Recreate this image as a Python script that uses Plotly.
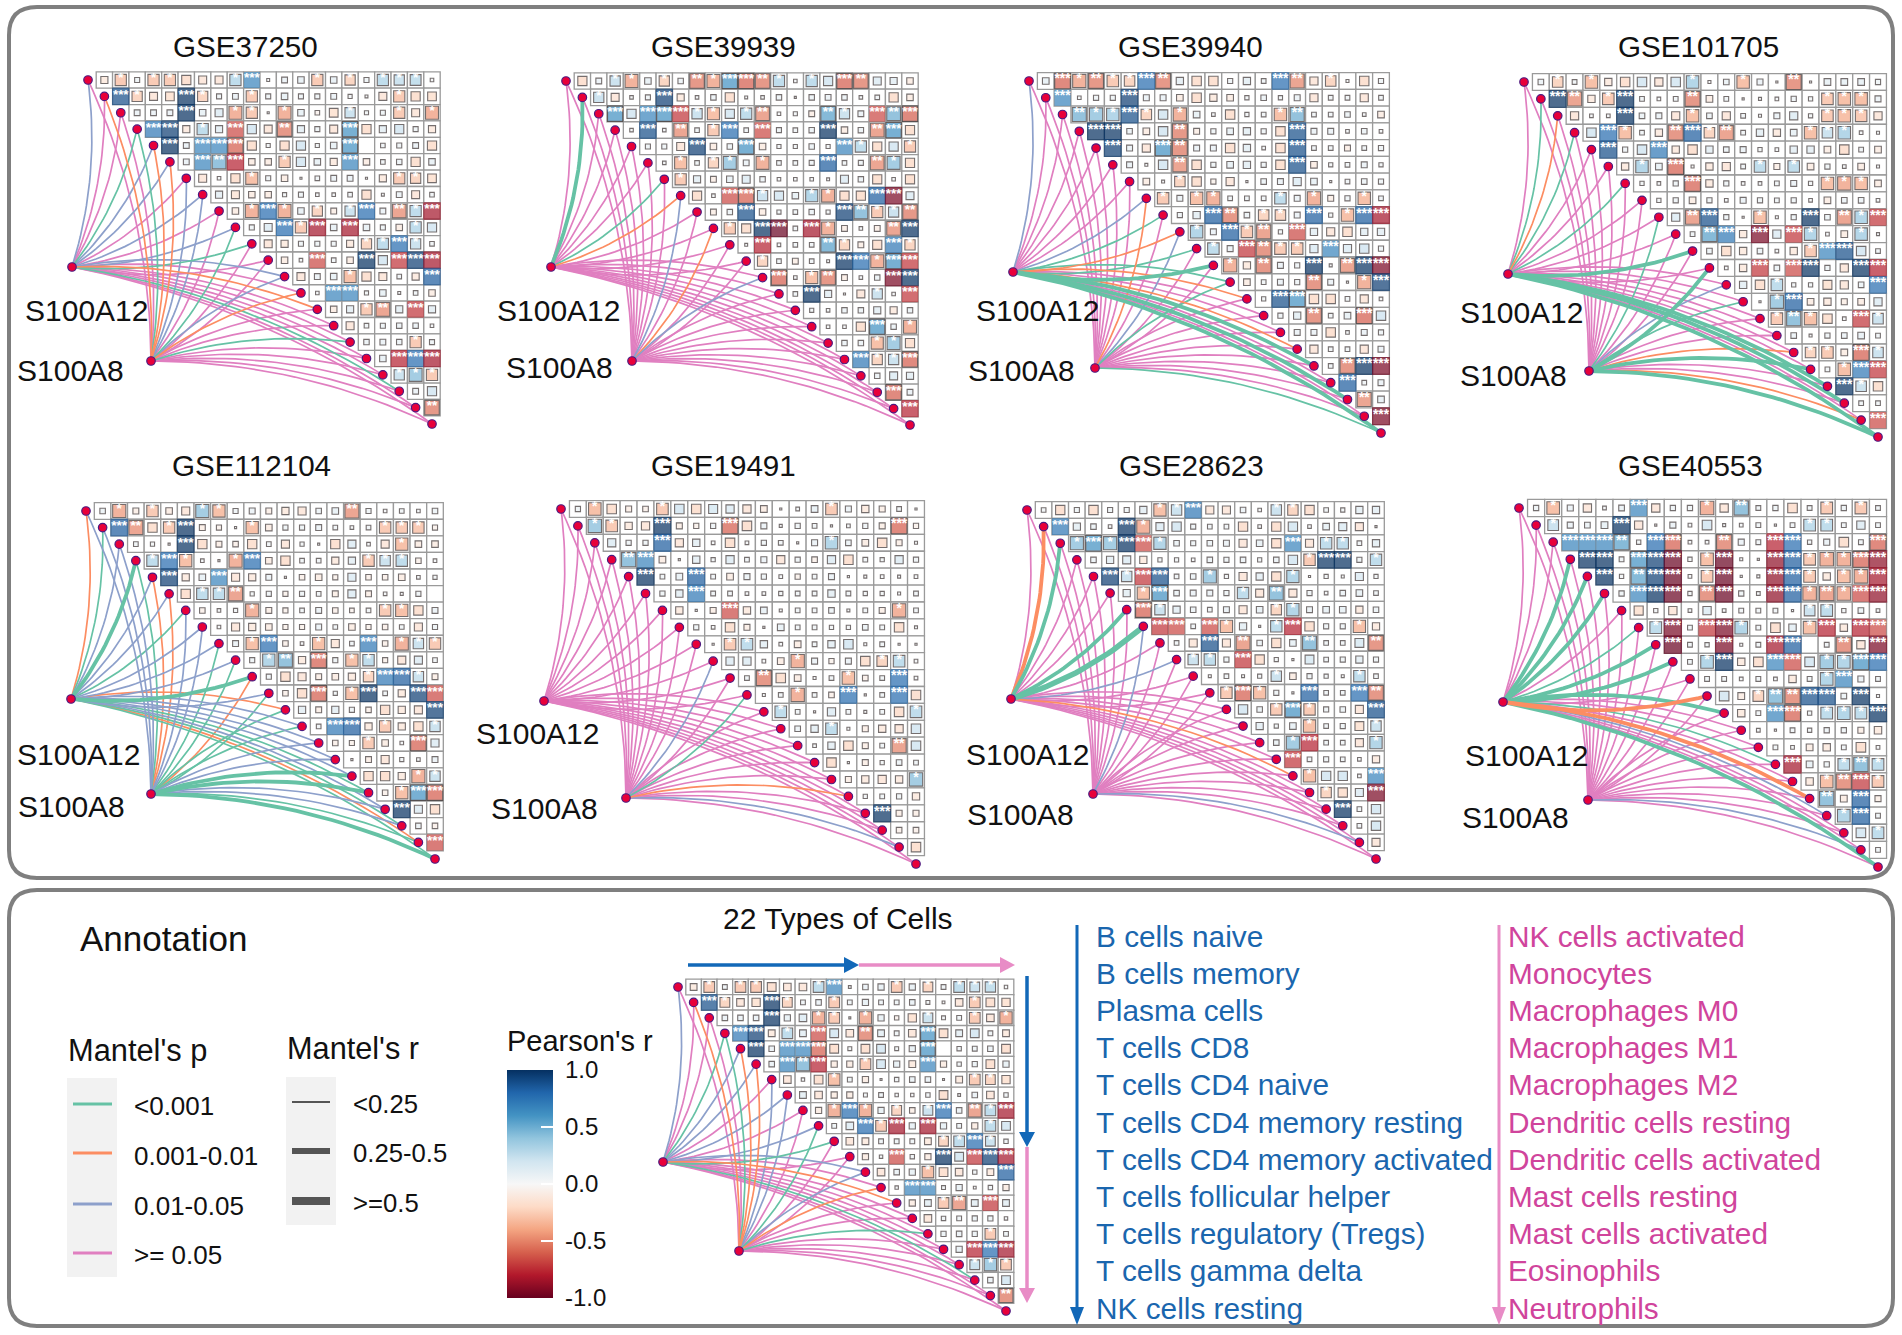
import plotly.graph_objects as go

W, H = 1902, 1335
FONT = "Liberation Sans"

PANEL_NAMES = ["GSE37250", "GSE39939", "GSE39940", "GSE101705",
               "GSE112104", "GSE19491", "GSE28623", "GSE40553"]

BLUE_CELLS = ["B cells naive", "B cells memory", "Plasma cells", "T cells CD8", "T cells CD4 naive",
              "T cells CD4 memory resting", "T cells CD4 memory activated", "T cells follicular helper",
              "T cells regulatory (Tregs)", "T cells gamma delta", "NK cells resting"]
PINK_CELLS = ["NK cells activated", "Monocytes", "Macrophages M0", "Macrophages M1", "Macrophages M2",
              "Dendritic cells resting", "Dendritic cells activated", "Mast cells resting",
              "Mast cells activated", "Eosinophils", "Neutrophils"]

P_LABELS = ["&lt;0.001", "0.001-0.01", "0.01-0.05", "&gt;= 0.05"]
R_LABELS = ["&lt;0.25", "0.25-0.5", "&gt;=0.5"]
CBAR_TICKS = [-1.0, -0.5, 0.0, 0.5, 1.0]
CBAR_TEXT = ["-1.0", "-0.5", "0.0", "0.5", "1.0"]

R_GSE37250 = [
 [-.12,-.3,.06,-.3,-.3,-.2,-.15,-.15,.3,.6,.02,.08,.1,-.3,.1,-.25,.06,.3,.25,.28,.03],
 [.8,-.25,-.15,-.18,.95,-.25,.06,.08,-.3,.06,.1,.06,.06,.08,.04,.02,-.15,-.3,-.2,-.18],
 [.08,.08,.08,.95,.1,.15,-.4,-.3,.01,-.4,.1,-.05,-.18,.25,.04,.06,-.3,-.15,-.4],
 [.65,.85,-.12,.3,.12,-.6,.2,-.15,-.5,.12,.06,-.15,.55,-.2,.12,.2,.06,-.12],
 [.95,.08,.6,.6,-.55,-.2,.04,-.2,.2,.04,.1,.55,0,.05,.06,.08,-.2],
 [.08,.6,.45,-.7,-.1,-.1,-.3,.2,.1,-.12,.6,-.1,.05,.07,-.2,.1],
 [-.15,.03,-.2,-.35,.06,-.1,.01,.05,.08,.08,.01,-.12,-.3,-.25,-.18],
 [.12,-.15,-.1,-.1,.04,.06,.03,.03,.05,-.2,.02,.08,-.15,.05],
 [-.1,-.4,.7,-.4,.1,-.25,-.08,.25,.7,.08,-.45,.3,-.75],
 [.06,.15,.7,-.3,-.75,.1,-.75,.1,.06,-.1,.3,.2],
 [-.15,-.12,.06,.06,.06,-.12,-.25,.3,.7,.25,.05],
 [-.1,.03,-.6,.05,-.1,.95,.2,-.65,.85,-.75],
 [-.15,.08,.1,-.35,-.2,-.15,.05,-.12,.75],
 [.03,.6,.6,.04,.1,.02,.05,-.1],
 [-.1,.12,-.3,-.45,.12,-.65,.12],
 [-.15,.05,.06,.07,.07,.03],
 [.07,.08,.07,-.3,.06],
 [.1,-.7,.7,-.75],
 [.25,.4,-.3],
 [.08,.2],
 [-.5],
]
R_GSE39939 = [
 [-.2,.08,.25,-.4,.1,-.25,.07,-.5,-.4,.55,-.55,-.5,.3,.03,.3,.2,-.55,-.5,.15,.12,-.1],
 [.25,-.15,.03,.06,.85,-.12,.03,.07,-.2,.02,.03,.07,.01,.07,.08,.07,.03,.05,-.2,-.1],
 [.55,.2,.6,.55,-.65,.25,-.35,.2,.3,-.45,.03,.04,-.08,.5,.25,.08,-.6,.45,-.55],
 [.03,.8,.03,-.45,.05,-.3,.7,.05,-.6,.06,.05,.07,.9,-.1,.07,-.45,.55,-.2],
 [.06,.06,-.15,.85,-.1,.07,.55,-.1,.04,.04,.07,.04,.6,.3,-.2,.2,-.3],
 [.03,-.35,.05,-.25,.4,.08,-.4,.05,.05,.06,.75,.05,.06,-.45,.4,-.2],
 [-.3,.12,-.08,.1,.15,.07,.03,.03,.03,.02,.15,.07,-.2,.03,-.2],
 [-.2,.03,-.6,-.55,.25,.2,.1,.35,-.4,-.2,-.2,.75,-.85,.15],
 [-.08,.07,.8,-.1,.04,.05,.07,.04,.85,.45,-.3,.25,-.5],
 [-.3,-.2,.9,-.9,.05,-.75,-.4,-.08,.03,-.08,-.45,.9],
 [.02,-.7,.03,.05,.05,.5,-.25,-.08,-.2,.65,-.25],
 [-.25,.05,-.08,.05,.02,.9,.7,-.4,.55,-.65],
 [-.55,.03,-.35,-.5,-.08,.03,.07,-.85,.9],
 [.05,.95,.12,.01,-.15,.25,.03,-.65],
 [.04,.03,.07,.07,.12,-.12,.07],
 [.03,.03,-.2,.55,.07,-.4],
 [.07,.07,-.35,.4,-.2],
 [.65,-.25,.25,-.55],
 [.07,.15,.12],
 [-.55,.08],
 [-.7],
]
R_GSE39940 = [
 [.1,-.55,-.4,-.5,-.3,-.25,.7,-.5,.12,-.2,-.2,.06,.12,.05,.7,-.45,-.15,-.25,.02,-.2,.06],
 [.6,.03,.06,.06,.85,.08,.08,-.1,-.2,-.12,-.1,.04,.07,.04,.08,-.15,.05,.05,-.15,.05],
 [.45,.4,.35,.8,-.25,.2,-.4,.1,.03,-.2,.04,.05,-.35,.45,.05,.05,.07,.03,-.1],
 [.9,.9,.07,-.1,.2,-.5,-.08,.06,.1,.12,.06,-.2,.8,.08,.08,.03,.07,.03],
 [.85,.08,-.15,.55,-.5,.08,.08,-.2,.12,.03,-.2,.8,.05,.05,-.08,.05,.06],
 [.08,.02,.2,-.45,-.2,.06,.1,.12,.06,-.2,.8,-.1,.04,.05,.08,.04],
 [-.1,.02,-.25,-.2,-.06,-.15,.01,.07,.08,.15,.1,.01,.05,.07,.06],
 [-.3,.08,-.35,-.4,.05,.05,.05,.3,.08,-.4,-.08,.06,-.35,.05],
 [.06,.12,.75,-.5,.07,-.25,-.25,.08,.75,.04,-.35,.75,-.75],
 [.35,.08,.75,-.3,-.45,.04,-.6,.12,-.15,-.2,.12,.12],
 [.3,.08,-.65,-.5,-.3,-.3,.15,.6,.15,.2,.06],
 [-.4,-.12,-.5,.08,.06,.98,.02,-.45,.98,-.85],
 [-.1,.05,.08,.06,-.5,.08,.01,-.4,.85],
 [.04,.8,.55,-.2,-.2,.05,-.15,.03],
 [.06,.12,-.5,.05,.1,-.55,.2],
 [.08,.08,-.2,.03,.08,.06],
 [-.15,.05,.05,-.15,.08],
 [.05,-.5,.98,-.85],
 [.75,.05,.08],
 [-.45,.1],
 [-.85],
]
R_GSE101705 = [
 [.07,-.25,.05,-.35,-.12,-.2,.2,-.15,.2,.35,.02,.07,-.35,.08,.01,-.5,.01,.1,.1,.1,.06],
 [.9,-.45,-.12,-.3,.98,.05,.03,.05,-.5,-.1,.05,.01,.02,.03,.06,.04,-.3,-.35,-.35,.08],
 [-.15,.03,.03,.95,.07,.08,-.15,-.35,.07,-.15,.05,.02,.08,.15,.04,-.3,-.35,-.3,-.15],
 [.2,.7,-.35,.05,-.12,-.5,.75,-.25,-.45,.05,.12,-.12,.1,-.35,.25,.35,.03,.02],
 [.8,.06,.2,.65,-.12,-.2,.12,.07,.08,.04,.03,.12,.12,-.1,-.2,.05,-.1],
 [-.12,.35,.1,-.55,.02,-.12,-.15,.05,.3,-.08,.3,-.1,.06,.03,-.1,.02],
 [.04,.03,.06,-.55,-.12,.06,.03,.03,.05,.08,.04,-.35,-.4,-.35,-.1],
 [.04,.06,-.1,.06,.03,.08,.06,.05,.06,.03,-.1,.07,.07,.03],
 [.15,-.45,.8,.06,.01,-.35,.02,.06,.9,.07,-.45,.35,-.65],
 [.05,.5,.65,-.12,-.85,.15,-.65,.35,.03,-.1,.35,.02],
 [.07,-.2,-.12,.07,.03,-.12,-.3,.6,.8,.2,.05],
 [.03,-.12,-.65,.07,-.6,.98,.06,-.15,.9,-.7],
 [.12,-.2,.3,.04,.04,-.18,-.15,.07,.7],
 [.01,.4,.75,-.1,-.12,-.08,-.1,.15],
 [-.3,.45,-.35,-.2,.03,-.65,.25],
 [.07,.02,.06,.07,.1,.05],
 [-.25,-.3,-.1,-.55,.25],
 [.05,-.35,.65,-.65],
 [.9,.25,-.2],
 [.05,.05],
 [-.6],
]
R_GSE112104 = [
 [.07,-.4,-.08,-.3,-.1,-.15,.4,-.35,.06,.08,-.08,-.12,-.15,.07,.1,-.45,.06,.03,.05,.03,.07],
 [.75,-.45,-.2,-.3,.98,-.08,-.06,.01,-.35,-.1,.06,.06,.08,.05,.03,.05,-.3,-.3,-.3,-.06],
 [.05,.04,.01,.9,-.2,-.08,-.07,-.2,.05,-.15,.04,.01,-.2,.15,.03,-.15,-.35,-.1,-.1],
 [.3,.7,-.35,.03,.01,-.4,.7,-.1,-.2,.05,.05,-.12,.12,-.3,.25,.3,-.07,.03],
 [.85,-.12,.1,.6,-.15,-.12,.08,.01,-.07,-.1,-.06,.15,-.07,-.07,-.1,.03,.04],
 [-.2,.3,.3,-.45,.04,.06,-.06,.06,.05,-.08,.15,-.08,.03,.02,.06,0],
 [-.07,.03,.04,-.4,-.08,-.06,.05,.08,-.07,-.05,.05,-.3,-.35,-.2,.08],
 [.03,-.15,-.12,-.1,-.06,-.06,.08,.05,-.1,-.06,-.07,.05,-.15,.06],
 [.08,-.35,.7,-.07,.03,-.35,-.15,.05,.65,-.07,-.4,.25,-.3],
 [.06,.35,.45,-.12,-.55,.06,-.35,.3,-.06,-.15,.15,.05],
 [.06,-.2,-.15,-.08,-.1,-.12,-.25,.65,.75,.25,-.08],
 [-.07,-.2,-.55,.04,-.35,.9,.05,-.12,.85,-.6],
 [.12,-.08,.12,.06,-.07,-.2,-.12,-.15,.85],
 [.05,.65,.75,-.12,-.3,-.12,-.2,.25],
 [-.07,-.06,-.3,-.1,.03,-.55,.15],
 [.01,-.08,-.15,.04,.03,.08],
 [-.2,-.2,-.12,-.4,.25],
 [-.07,-.35,.55,-.55],
 [.9,.15,-.2],
 [.07,-.07],
 [-.6],
]
R_GSE19491 = [
 [.06,-.35,-.2,-.08,-.07,-.3,.2,-.2,.18,.15,-.15,-.1,.01,.03,.1,-.3,.08,-.12,-.08,.05,.01],
 [.4,-.3,-.12,-.15,.95,-.08,-.06,.06,-.55,-.2,.08,.02,.06,.05,.01,.03,.06,-.08,-.55,-.06],
 [.15,.06,.06,.75,-.15,.12,.03,-.2,.03,.06,.05,.01,.08,.35,.07,-.1,-.2,-.08,.02],
 [.45,.6,-.1,.01,.12,.04,.15,.05,.08,-.15,.06,-.07,.15,-.2,.05,.04,.15,.06],
 [.9,.05,.1,.75,.05,-.1,.08,.06,.03,-.06,.05,.08,.01,.02,.03,.02,.03],
 [.06,.12,.65,.05,.05,.03,.03,.04,.05,.05,.12,.05,.04,.04,.02,.05],
 [-.12,.01,-.08,-.6,-.12,.1,.02,.05,.05,.07,.02,.05,-.08,-.4,.05],
 [.06,.03,-.2,-.08,.01,.1,.05,.05,.04,.04,.07,.05,-.2,.02],
 [.01,-.3,.3,.12,.03,-.1,.05,.12,.2,.02,.05,.01,.01],
 [.15,.15,.03,-.1,-.4,.08,-.06,.08,-.2,-.25,.3,.03],
 [.05,-.5,-.2,-.1,.02,.05,-.35,-.07,.05,.7,.03],
 [.02,.05,-.4,.05,-.07,.7,.01,.05,.7,-.2],
 [.3,.05,.01,.15,.05,.02,.05,-.2,.3],
 [.07,.12,.3,.02,-.08,-.12,-.15,.2],
 [.03,.12,-.2,-.08,.05,-.45,.2],
 [-.2,.01,-.08,.04,.07,.05],
 [-.08,-.12,-.15,-.12,.4],
 [.04,.05,.06,-.12],
 [.95,-.08,-.08],
 [-.07,-.07],
 [-.2],
]
R_GSE28623 = [
 [.05,-.2,.06,-.2,.06,.06,.12,-.35,.25,.65,-.15,-.15,.07,.03,.25,-.25,-.2,.05,.04,.12,.12],
 [.65,.12,.07,.03,.95,-.4,.15,.2,.06,.05,.05,-.2,.03,-.2,.2,.03,.1,.15,-.15,.01],
 [.4,.55,.4,.9,-.6,.35,.07,.06,.07,.08,-.15,.1,-.2,.6,-.15,.3,.3,.05,.12],
 [.07,.12,.15,-.12,.04,.04,.03,.07,.06,.07,.04,.07,.2,-.3,.98,.98,.06,.3],
 [.85,.25,-.65,.8,.05,.07,.4,.04,-.15,.12,-.2,.35,.01,.04,.02,.15,.04],
 [.12,-.35,.55,.07,.08,.08,.06,.3,-.15,.45,-.15,.06,.03,.07,.1,.05],
 [-.55,.25,.12,.07,.05,.08,-.15,.1,-.25,.35,.08,.1,.1,-.12,.07],
 [-.65,-.6,.05,-.6,-.35,.12,.01,.3,-.7,-.2,.06,.06,-.35,-.12],
 [.05,-.15,.8,-.15,-.45,.07,-.2,.1,.45,.05,.05,.18,-.5],
 [.25,.3,.06,-.65,-.2,.04,.01,.18,.05,.06,.12,.06],
 [.02,.05,.02,.04,.25,-.1,.06,.04,.02,.3,.05],
 [-.3,-.55,-.35,.06,.01,.75,.05,.05,.7,-.5],
 [.2,.07,-.3,.55,-.3,.06,.07,-.15,.8],
 [.12,.04,.1,-.35,.05,.06,-.18,.25],
 [.07,.4,-.7,.05,.05,-.15,.35],
 [-.65,.05,.06,.05,.03,-.12],
 [-.35,.2,.2,.03,.6],
 [-.25,-.2,.15,-.85],
 [.95,.05,.2],
 [.05,.2],
 [-.15],
]
R_GSE40553 = [
 [.06,-.35,.08,-.15,.03,.07,.6,-.15,.06,.06,-.4,-.15,.45,.05,.06,-.2,.05,-.3,.06,-.3,.05],
 [.25,.08,.07,.1,.9,-.15,.01,.08,.03,.2,.02,.03,.05,.01,.05,.3,.3,.05,.15,.05],
 [.6,.6,.6,.5,.04,.7,-.55,.03,.03,-.5,.08,.05,-.7,.7,.04,.08,-.2,.05,-.55],
 [.98,.95,.05,.55,.85,-.95,.04,-.35,-.9,.02,.01,-.8,.75,-.3,-.4,-.4,-.55,-.8],
 [.95,.04,.5,.85,-.95,.03,-.3,-.9,.01,.02,-.8,.75,-.3,-.12,-.35,-.4,-.75],
 [.06,.6,.9,-.98,.04,-.5,-.95,.06,.03,-.8,.75,-.4,-.45,-.4,-.6,-.8],
 [-.18,.04,-.15,.03,.15,.03,.05,.05,.05,.01,.25,.3,.04,.07,.03],
 [.3,-.85,.05,-.65,-.85,.35,.05,-.2,.12,-.35,-.7,-.12,-.7,-.6],
 [-.9,.05,.04,-.85,.02,.05,-.75,.75,0,.05,-.5,-.15,-.85],
 [.05,.35,.9,-.12,-.2,.6,-.6,.2,.4,.35,.55,.7],
 [.05,.05,.03,.05,.03,-.12,.05,.35,.6,.08,.05],
 [.2,-.1,-.25,.45,-.5,.8,.8,.07,.95,.02],
 [-.12,.05,.6,-.55,.04,.3,.35,.3,.95],
 [.03,.01,.05,.04,.06,.06,-.08,-.12],
 [.05,.03,-.1,-.12,.05,-.2,.03],
 [-.75,.1,.06,.3,.45,.3],
 [-.12,-.35,-.5,-.65,-.3],
 [.45,-.1,.75,-.08],
 [.35,.75,.05],
 [.2,.3],
 [.05],
]

# Mantel's p class of each link: 0 <0.001, 1 0.001-0.01, 2 0.01-0.05, 3 >=0.05
A12P_GSE37250 = [2,3,3,0,2,2,3,2,3,2,0,3,2,3,1,3,3,3,3,0,3,3]
A8P_GSE37250  = [3,1,3,0,1,1,2,2,3,0,3,3,2,1,3,3,0,3,3,3,3,3]
A12P_GSE39939 = [3,0,3,3,3,3,0,1,3,3,3,3,3,3,3,3,3,3,3,3,3,3]
A8P_GSE39939  = [3,3,3,3,3,3,3,2,3,1,3,3,2,3,3,3,3,3,3,3,3,3]
A12P_GSE39940 = [2,3,3,3,3,3,3,2,0,1,0,0,0,1,3,3,1,0,3,0,3,0]
A8P_GSE39940  = [3,3,3,3,3,3,3,1,3,2,3,3,0,3,3,3,3,3,3,3,3,0]
A12P_GSE101705 = [3,0,1,0,3,3,0,3,3,3,0,3,3,3,3,3,3,3,0,0,3,0]
A8P_GSE101705  = [3,3,3,3,3,3,3,3,0,3,3,0,2,0,3,3,1,0,3,3,1,0]
A12P_GSE112104 = [1,0,2,0,2,2,0,2,2,2,0,2,1,2,2,2,2,0,2,0,1,0]
A8P_GSE112104  = [2,2,2,0,1,1,2,2,0,0,1,0,0,0,2,2,0,0,2,2,0,0]
A12P_GSE19491 = [3,3,3,3,3,3,3,3,3,3,3,3,3,3,3,3,3,3,3,3,3,3]
A8P_GSE19491  = [3,3,3,3,3,3,3,3,3,2,3,0,3,3,3,3,3,1,3,3,2,3]
A12P_GSE28623 = [3,1,0,3,3,3,0,0,3,2,3,3,3,3,3,3,1,3,3,3,3,3]
A8P_GSE28623  = [3,3,3,3,3,3,3,2,3,3,3,3,3,3,3,3,3,3,3,3,2,3]
A12P_GSE40553 = [3,3,3,0,0,0,3,0,0,0,3,1,0,3,3,0,3,1,2,3,3,0]
A8P_GSE40553  = [3,3,3,3,3,3,3,3,3,3,3,3,3,3,3,3,3,3,3,3,2,3]

# Mantel's r class of each link: 0 <0.25, 1 0.25-0.5, 2 >=0.5
A12W_GSE37250 = [0]*22
A8W_GSE37250  = [0]*22
A12W_GSE39939 = [0,1,0,0,0,0,0,0,0,0,0,0,0,0,0,0,0,0,0,0,0,0]
A8W_GSE39939  = [0]*22
A12W_GSE39940 = [0,0,0,0,0,0,0,0,0,0,0,1,0,0,0,0,0,1,0,1,0,1]
A8W_GSE39940  = [0]*22
A12W_GSE101705 = [0,0,0,0,0,0,0,0,0,0,1,0,0,0,0,0,0,0,1,1,0,1]
A8W_GSE101705  = [0,0,0,0,0,0,0,0,0,0,0,1,0,0,0,0,0,1,0,0,0,1]
A12W_GSE112104 = [0,0,0,1,0,0,0,0,0,0,1,0,0,0,0,0,0,0,0,0,0,0]
A8W_GSE112104  = [0,0,0,0,0,0,0,0,0,0,0,0,0,0,0,0,1,1,0,0,0,1]
A12W_GSE19491 = [0]*22
A8W_GSE19491  = [0]*22
A12W_GSE28623 = [0,1,1,0,0,0,1,2,0,0,0,0,0,0,0,0,0,0,0,0,0,0]
A8W_GSE28623  = [0]*22
A12W_GSE40553 = [0,0,0,1,1,1,0,0,1,1,0,1,1,0,0,0,0,1,0,0,0,1]
A8W_GSE40553  = [0]*22

PANEL_DATA = {
    "GSE37250": (R_GSE37250, A12P_GSE37250, A8P_GSE37250, A12W_GSE37250, A8W_GSE37250),
    "GSE39939": (R_GSE39939, A12P_GSE39939, A8P_GSE39939, A12W_GSE39939, A8W_GSE39939),
    "GSE39940": (R_GSE39940, A12P_GSE39940, A8P_GSE39940, A12W_GSE39940, A8W_GSE39940),
    "GSE101705": (R_GSE101705, A12P_GSE101705, A8P_GSE101705, A12W_GSE101705, A8W_GSE101705),
    "GSE112104": (R_GSE112104, A12P_GSE112104, A8P_GSE112104, A12W_GSE112104, A8W_GSE112104),
    "GSE19491": (R_GSE19491, A12P_GSE19491, A8P_GSE19491, A12W_GSE19491, A8W_GSE19491),
    "GSE28623": (R_GSE28623, A12P_GSE28623, A8P_GSE28623, A12W_GSE28623, A8W_GSE28623),
    "GSE40553": (R_GSE40553, A12P_GSE40553, A8P_GSE40553, A12W_GSE40553, A8W_GSE40553),
}

# ---------- layout geometry, in page pixels ----------
# name: first node, last node, S100A12 node, S100A8 node, title centre, A12 label centre, A8 label centre
GEOM = [
    ("GSE37250", (88, 80), (432, 424), (72, 267), (151, 361), (245, 47), (86, 311), (70, 371)),
    ("GSE39939", (566, 81), (910, 425), (551, 267), (632, 361), (723, 47), (558, 311), (559, 367)),
    ("GSE39940", (1029, 81), (1381, 433), (1013, 272), (1095, 368), (1190, 47), (1037, 311), (1021, 370)),
    ("GSE101705", (1524, 82), (1878, 437), (1508, 274), (1589, 371), (1698, 47), (1521, 312), (1513, 376)),
    ("GSE112104", (86, 511), (435, 859), (71, 699), (151, 794), (251, 466), (78, 754), (71, 806)),
    ("GSE19491", (561, 509), (916, 864), (544, 701), (626, 798), (723, 466), (537, 733), (544, 808)),
    ("GSE28623", (1027, 510), (1376, 859), (1011, 699), (1093, 794), (1191, 466), (1027, 754), (1020, 814)),
    ("GSE40553", (1519, 508), (1878, 867), (1503, 702), (1588, 800), (1690, 466), (1526, 755), (1515, 817)),
    ("GSE37250", (678, 987), (1006, 1311), (663, 1162), (739, 1251), None, None, None),
]

LINK_COLORS = ["#66c2a5", "#fc8d62", "#8da0cb", "#e07fc0"]
LINK_WIDTHS = [1.7, 3.8, 5.5]
KEY_WIDTHS = [2, 6, 8]
RDBU = ["#67001F", "#B2182B", "#D6604D", "#F4A582", "#FDDBC7", "#F7F7F7",
        "#D1E5F0", "#92C5DE", "#4393C3", "#2166AC", "#053061"]
SCALE = [[i / 10, c] for i, c in enumerate(RDBU)]
CURV = 0.11
COLOR_GAIN = 1.12


def px(x):
    return x / W


def py(y):
    return 1 - y / H


def stars(v):
    a = abs(v)
    if a >= 0.55:
        return "***"
    if a >= 0.42:
        return "**"
    if a >= 0.25:
        return "*"
    return ""


def curve(x0, y0, x1, y1, upper, sx, sy):
    """Quadratic curve from node to node, in cell units; bends like the ggcor links."""
    ax, ay, bx, by = x0 * sx, y0 * sy, x1 * sx, y1 * sy
    dx, dy = bx - ax, by - ay
    nx, ny = (-dy, dx) if upper else (dy, -dx)
    cx, cy = (ax + bx) / 2 + CURV * nx, (ay + by) / 2 + CURV * ny
    xs, ys = [], []
    for k in range(25):
        t = k / 24
        xs.append(((1 - t) ** 2 * ax + 2 * t * (1 - t) * cx + t * t * bx) / sx)
        ys.append(((1 - t) ** 2 * ay + 2 * t * (1 - t) * cy + t * t * by) / sy)
    return xs, ys


fig = go.Figure()
layout_axes = {}

for idx, (name, n1, nl, a12, a8, title, l12, l8) in enumerate(GEOM, start=1):
    rows, p12, p8, w12, w8 = PANEL_DATA[name]
    for r, row in enumerate(rows):
        assert len(row) == 21 - r, (name, r, len(row))
    assert len(p12) == len(p8) == len(w12) == len(w8) == 22, name
    dx = (nl[0] - n1[0]) / 21
    dy = (nl[1] - n1[1]) / 21
    L, R = a12[0] - 14, nl[0] + 14
    T, B = n1[1] - 14, nl[1] + 14
    xk, yk = f"x{idx}", f"y{idx}"
    layout_axes[f"xaxis{idx}"] = dict(domain=[px(L), px(R)], visible=False, fixedrange=True,
                                      range=[(L - n1[0]) / dx + 1, (R - n1[0]) / dx + 1], anchor=yk)
    layout_axes[f"yaxis{idx}"] = dict(domain=[py(B), py(T)], visible=False, fixedrange=True,
                                      range=[(B - n1[1]) / dy + 1, (T - n1[1]) / dy + 1], anchor=xk)
    cols, rws, vals = [], [], []
    for i, row in enumerate(rows):
        for j, v in enumerate(row):
            cols.append(i + j + 2)
            rws.append(i + 1)
            vals.append(v)
    # grid
    fig.add_trace(go.Scatter(x=cols, y=rws, mode="markers", xaxis=xk, yaxis=yk, showlegend=False,
                             hoverinfo="skip", cliponaxis=False,
                             marker=dict(symbol="square", size=dx, color="white",
                                         line=dict(color="#9a9a9a", width=1.3))))
    # links
    a12c = ((a12[0] - n1[0]) / dx + 1, (a12[1] - n1[1]) / dy + 1)
    a8c = ((a8[0] - n1[0]) / dx + 1, (a8[1] - n1[1]) / dy + 1)
    groups = {}
    for src, ps, ws in ((a12c, p12, w12), (a8c, p8, w8)):
        for t in range(22):
            xs, ys = curve(src[0], src[1], t + 1, t + 1, t < 12, dx, dy)
            g = groups.setdefault((ps[t], ws[t]), ([], []))
            g[0].extend(xs + [None])
            g[1].extend(ys + [None])
    for key in sorted(groups, key=lambda k: (k[0] != 3, k[1])):
        xs, ys = groups[key]
        fig.add_trace(go.Scatter(x=xs, y=ys, mode="lines", xaxis=xk, yaxis=yk, showlegend=False,
                                 hoverinfo="skip", cliponaxis=False,
                                 line=dict(color=LINK_COLORS[key[0]], width=LINK_WIDTHS[key[1]])))
    # coloured squares
    sizes = [min(1.07, 1.25 * abs(v) ** 0.5) * dx for v in vals]
    shades = [max(-1.0, min(1.0, v * COLOR_GAIN)) for v in vals]
    lcol = ["rgba(50,40,40,0.95)" if abs(v) < 0.6 else "rgba(0,0,0,0)" for v in vals]
    marker = dict(symbol="square", size=sizes, color=shades, cmin=-1, cmax=1, colorscale=SCALE,
                  line=dict(color=lcol, width=1.1))
    if idx == 1:
        marker.update(showscale=True, colorbar=dict(
            x=px(507), xanchor="left", xpad=0, y=py(1184), yanchor="middle", ypad=0,
            thickness=46, thicknessmode="pixels", len=228, lenmode="pixels",
            outlinewidth=0, borderwidth=0, ticks="inside", ticklen=12, tickcolor="white", tickwidth=1.5,
            tickmode="array", tickvals=CBAR_TICKS,
            ticktext=["\u00a0" + t for t in CBAR_TEXT],
            tickfont=dict(family=FONT, size=24, color="#111")))
    fig.add_trace(go.Scatter(x=cols, y=rws, mode="markers", xaxis=xk, yaxis=yk, showlegend=False,
                             hoverinfo="skip", cliponaxis=False, marker=marker))
    # stars
    sc, sr, st = [], [], []
    for c, r, v in zip(cols, rws, vals):
        s = stars(v)
        if s:
            sc.append(c)
            sr.append(r - 0.06)
            st.append(s)
    fig.add_trace(go.Scatter(x=sc, y=sr, mode="text", text=st, textposition="middle center",
                             xaxis=xk, yaxis=yk, showlegend=False, hoverinfo="skip", cliponaxis=False,
                             textfont=dict(family=FONT, size=dx * 0.82, color="white", weight="bold")))
    # nodes
    nx = list(range(1, 23)) + [a12c[0], a8c[0]]
    ny = list(range(1, 23)) + [a12c[1], a8c[1]]
    fig.add_trace(go.Scatter(x=nx, y=ny, mode="markers", xaxis=xk, yaxis=yk, showlegend=False,
                             hoverinfo="skip", cliponaxis=False,
                             marker=dict(size=8.5, color="#e8003a", line=dict(color="#4b1a80", width=1.2))))

ann = []


def text(x, y, s, size, color="#111", anchor="center"):
    ann.append(dict(x=px(x), y=py(y), xref="paper", yref="paper", text=s, showarrow=False,
                    xanchor=anchor, yanchor="middle",
                    font=dict(family=FONT, size=size, color=color)))


for (name, n1, nl, a12, a8, title, l12, l8) in GEOM:
    if title:
        text(title[0], title[1], name, 29.6)
        text(l12[0], l12[1], "S100A12", 30)
        text(l8[0], l8[1], "S100A8", 30)

text(78, 938, "Annotation", 35, anchor="left")
text(66, 1050, "Mantel's p", 30.8, anchor="left")
text(285, 1048, "Mantel's r", 30.7, anchor="left")
text(505, 1041, "Pearson's r", 29, anchor="left")
text(838, 919, "22 Types of Cells", 30)

for lab, y in zip(P_LABELS, (1106, 1156, 1206, 1255)):
    text(132, y, lab, 26, anchor="left")
for lab, y in zip(R_LABELS, (1104, 1153, 1203)):
    text(351, y, lab, 25.7, anchor="left")
for i, lab in enumerate(BLUE_CELLS):
    text(1094, 936 + 37.2 * i, lab, 29.8, color="#1a66ae", anchor="left")
for i, lab in enumerate(PINK_CELLS):
    text(1506, 936 + 37.2 * i, lab, 29.8, color="#d0449c", anchor="left")

shapes = []


def frame(x0, y0, x1, y1, r=28):
    X0, X1, Y0, Y1 = px(x0), px(x1), py(y0), py(y1)
    rx, ry = r / W, r / H
    path = (f"M {X0+rx} {Y0} L {X1-rx} {Y0} Q {X1} {Y0} {X1} {Y0-ry} L {X1} {Y1+ry} "
            f"Q {X1} {Y1} {X1-rx} {Y1} L {X0+rx} {Y1} Q {X0} {Y1} {X0} {Y1+ry} L {X0} {Y0-ry} "
            f"Q {X0} {Y0} {X0+rx} {Y0} Z")
    shapes.append(dict(type="path", path=path, xref="paper", yref="paper", layer="below",
                       line=dict(color="#7f7f7f", width=4)))


def rect(x0, y0, x1, y1, color):
    shapes.append(dict(type="rect", x0=px(x0), x1=px(x1), y0=py(y1), y1=py(y0), xref="paper", yref="paper",
                       layer="below", fillcolor=color, line=dict(width=0)))


def arrow(x0, y0, x1, y1, color, width, hl, hw):
    ux = (x1 > x0) - (x1 < x0)
    uy = (y1 > y0) - (y1 < y0)
    bx, by = x1 - ux * hl, y1 - uy * hl
    shapes.append(dict(type="line", x0=px(x0), y0=py(y0), x1=px(bx), y1=py(by), xref="paper", yref="paper",
                       line=dict(color=color, width=width)))
    a = (bx + uy * hw, by + ux * hw)
    b = (bx - uy * hw, by - ux * hw)
    path = f"M {px(x1)} {py(y1)} L {px(a[0])} {py(a[1])} L {px(b[0])} {py(b[1])} Z"
    shapes.append(dict(type="path", path=path, xref="paper", yref="paper", fillcolor=color,
                       line=dict(width=0)))


frame(9, 7, 1893, 878)
frame(9, 890, 1893, 1326)
rect(67, 1078, 117, 1277, "#f2f2f2")
rect(286, 1077, 336, 1225, "#f2f2f2")
for c, y in zip(LINK_COLORS, (1104, 1153, 1204, 1253)):
    shapes.append(dict(type="line", x0=px(73), x1=px(112), y0=py(y), y1=py(y), xref="paper", yref="paper",
                       line=dict(color=c, width=3)))
for wd, y in zip(KEY_WIDTHS, (1102, 1151, 1201)):
    shapes.append(dict(type="line", x0=px(292), x1=px(330), y0=py(y), y1=py(y), xref="paper", yref="paper",
                       line=dict(color="#555555", width=wd)))

BLUE_A, PINK_A = "#1268b8", "#e88cc6"
arrow(688, 965, 859, 965, BLUE_A, 3.5, 15, 8)
arrow(859, 965, 1015, 965, PINK_A, 3.5, 15, 8)
arrow(1027, 976, 1027, 1147, BLUE_A, 3.5, 15, 8)
arrow(1027, 1147, 1027, 1303, PINK_A, 3.5, 15, 8)
arrow(1077, 925, 1077, 1325, BLUE_A, 3, 18, 7)
arrow(1499, 925, 1499, 1325, PINK_A, 3, 18, 7)

fig.update_layout(width=W, height=H, margin=dict(l=0, r=0, t=0, b=0, pad=0),
                  paper_bgcolor="white", plot_bgcolor="rgba(0,0,0,0)", showlegend=False,
                  annotations=ann, shapes=shapes, **layout_axes)

fig.write_html("out.html", config={"displayModeBar": False},
               post_script="document.body.style.margin='0';document.body.style.overflow='hidden';")
